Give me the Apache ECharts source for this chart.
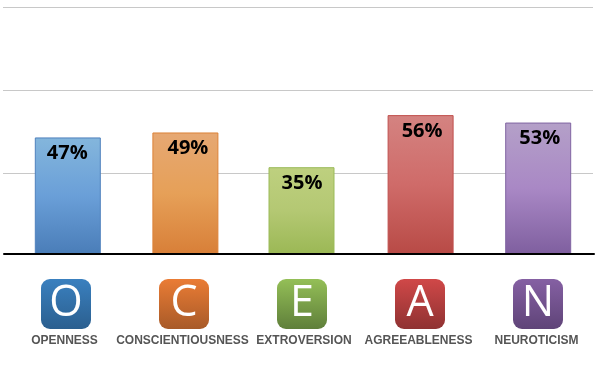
<!DOCTYPE html>
<html><head><meta charset="utf-8">
<style>html,body{margin:0;padding:0;background:#fff}#c{width:597px;height:370px}</style>
<script src="https://cdn.jsdelivr.net/npm/echarts@6/dist/echarts.min.js"></script>
</head><body><div id="c"></div>
<script>
var categories = ['OPENNESS','CONSCIENTIOUSNESS','EXTROVERSION','AGREEABLENESS','NEUROTICISM'];
var letters = ['O','C','E','A','N'];
var values = [47,49,35,56,53];
var gridTicks = [33,66,99];
var barColors = [
  ['#84b6dc','#6a9fd8','#4a7db8','#4f81bd'],
  ['#e6a873','#e6a058','#d87f38','#dc8238'],
  ['#bed07f','#b4c873','#9bb855','#9bbb59'],
  ['#d48381','#cf6b69','#b84a46','#c0504d'],
  ['#b4a0c8','#a988c5','#7f5f9f','#8064a2']
];
var iconColors = [
  ['#3a80bf','#2b5f8f'],['#ea7c35','#a85a28'],['#94bf57','#5f7f3a'],['#d04848','#8f3232'],['#8560a3','#5f4478']
];
function grad(stops){
  var cs = stops.map(function(c,i){return {offset:i/(stops.length-1),color:c};});
  return {type:'linear',x:0,y:0,x2:0,y2:1,colorStops:cs};
}
function barItem(i){
  return {value:values[i],itemStyle:{color:grad(barColors[i].slice(0,3)),borderColor:barColors[i][3],borderWidth:1},
    label:{offset:[[-0.5,0],[2.5,0],[0.5,0],[1.5,0],[1.5,0]][i]}};
}
var chart = echarts.init(document.getElementById('c'),null,{renderer:'canvas'});
var hidden = {show:false};
var labelFont = {fontFamily:'Liberation Sans',fontWeight:'bold',fontSize:12,color:'#555555'};
var barLabel = {show:true,position:'insideTop',distance:6,formatter:'{c}%',
  fontFamily:'Open Sans',fontWeight:'bold',fontSize:20,color:'#000'};
chart.setOption({
  animation:false,
  backgroundColor:'#fff',
  grid:[
    {left:3,width:590,top:7,height:166},
    {left:9,width:589,top:6,height:248},
    {left:7,width:590,top:279,height:50},
    {left:4,width:590,top:6,height:248},
    {left:7,width:589,top:6,height:248},
    {left:5.5,width:590,top:279,height:50}
  ],
  xAxis:[
    {gridIndex:0,type:'category',data:categories,show:false},
    {gridIndex:1,type:'category',data:categories,axisLine:hidden,axisTick:hidden,axisLabel:hidden},
    {gridIndex:2,type:'category',data:categories,axisLine:hidden,axisTick:hidden,axisLabel:hidden},
    {gridIndex:3,type:'category',data:categories,z:10,axisLine:{lineStyle:{color:'#000',width:2}},axisTick:hidden,axisLabel:hidden},
    {gridIndex:4,type:'category',data:categories,axisLine:hidden,axisTick:hidden,axisLabel:hidden},
    {gridIndex:5,type:'category',data:categories,axisLine:hidden,axisTick:hidden,
     axisLabel:Object.assign({interval:0,margin:6,hideOverlap:false,
       formatter:function(v,i){return i===2?'{shift|'+v+'}':v;},
       rich:{shift:Object.assign({padding:[0,0,0,7]},labelFont)}},labelFont)}
  ],
  yAxis:[
    {gridIndex:0,type:'value',min:gridTicks[0],max:gridTicks[2],interval:33,axisLine:hidden,axisTick:hidden,axisLabel:hidden,
     splitLine:{lineStyle:{color:'#c8c8c8',width:1}}},
    {gridIndex:1,type:'value',min:0,max:100,show:false,splitLine:hidden},
    {gridIndex:2,type:'value',min:0,max:1,show:false,splitLine:hidden},
    {gridIndex:3,type:'value',min:0,max:100,show:false,splitLine:hidden},
    {gridIndex:4,type:'value',min:0,max:100,show:false,splitLine:hidden},
    {gridIndex:5,type:'value',min:0,max:1,show:false,splitLine:hidden}
  ],
  series:[
    {type:'bar',xAxisIndex:1,yAxisIndex:1,barWidth:66,z:3,label:barLabel,
     data:values.map(function(v,i){return i===2?'-':barItem(i);})},
    {type:'bar',xAxisIndex:4,yAxisIndex:4,barWidth:66,z:3,label:barLabel,
     data:values.map(function(v,i){return i===2?barItem(i):'-';})},
    {type:'custom',xAxisIndex:2,yAxisIndex:2,z:3,data:letters.map(function(){return 1;}),
     renderItem:function(params,api){
       var i=params.dataIndex, p=api.coord([i,1]), b=api.coord([i,0]), h=b[1]-p[1];
       return {type:'group',children:[
         {type:'rect',shape:{x:p[0]-h/2,y:p[1],width:h,height:h,r:9},style:{fill:grad(iconColors[i])}},
         {type:'text',style:{x:p[0],y:p[1]+h/2,text:letters[i],align:'center',verticalAlign:'middle',
           fontFamily:'Open Sans',fontWeight:'normal',fontSize:43,fill:'#fff'}}
       ]};
     }}
  ]
});
</script></body></html>
